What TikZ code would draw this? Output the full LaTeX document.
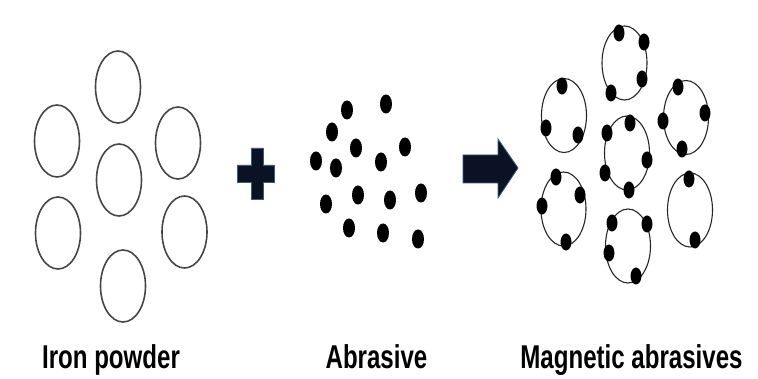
\documentclass[tikz,border=0pt]{standalone}
\usepackage{fontspec}
\setmainfont{Liberation Sans}
\usetikzlibrary{shapes.geometric}
\definecolor{ringgray}{RGB}{70,70,70}
\definecolor{navyfill}{RGB}{10,18,36}
\definecolor{navyedge}{RGB}{60,90,130}
\tikzset{
  fe/.style={ellipse, draw=ringgray, line width=1.6pt, minimum width=45pt, minimum height=72pt, inner sep=0pt},
  mag/.style={ellipse, draw=black!85, line width=1.1pt, minimum width=45pt, minimum height=74pt, inner sep=0pt},
  grit/.style={ellipse, fill=black, minimum width=12pt, minimum height=19pt, inner sep=0pt},
  mgrit/.style={ellipse, fill=black, minimum width=11pt, minimum height=17pt, inner sep=0pt},
  lbl/.style={inner sep=0pt, anchor=base, font=\fontsize{33}{33}\selectfont\bfseries},
  sym/.style={fill=navyfill, draw=navyedge, line width=0.8pt, line join=miter}
}
\newcommand{\narrowtext}[1]{\scalebox{0.73}[1]{#1}}
\begin{document}
\begin{tikzpicture}[x=1pt,y=-1pt]
\useasboundingbox[fill=white] (0,0) rectangle (758,379);
% Iron powder
\node[fe] (f1) at (118,87) {};
\node[fe] (f2) at (57,141) {};
\node[fe] (f3) at (178,143) {};
\node[fe] (f4) at (119,180) {};
\node[fe] (f5) at (58,233) {};
\node[fe] (f6) at (184.5,232) {};
\node[fe] (f7) at (123,286) {};
% plus
\draw[sym] (251,148) -- (263,148) -- (263,165) -- (274,165) -- (274,182) -- (263,182) -- (263,199) -- (251,199) -- (251,182) -- (237,182) -- (237,165) -- (251,165) -- cycle;
% abrasive grains
\foreach \n/\x/\y in {1/347/110, 2/386/104, 3/332/132, 4/356/148, 5/405/147, 6/316/161, 7/336/168, 8/381/162, 9/358/195, 10/390/200, 11/421/193, 12/326/204, 13/349/228, 14/383/233, 15/418/239}
  \node[grit] (g\n) at (\x,\y) {};
% arrow
\draw[sym] (463,155) -- (498,155) -- (498,139) -- (518,168) -- (498,198) -- (498,183) -- (463,183) -- cycle;
% magnetic abrasives
\node[mag] (m1) at (624.5,63) {};
\node[mag] (m2) at (564,115.5) {};
\node[mag] (m3) at (627,153) {};
\node[mag] (m4) at (686,117.5) {};
\node[mag] (m5) at (563.5,209) {};
\node[mag] (m6) at (690,210) {};
\node[mag] (m7) at (628,246) {};
\foreach \n/\x/\y in {a/619/33, b/644/42, c/642/79, d/611/93,
  e/562/86, f/546/128, g/578/135,
  h/630/123, i/607/133, j/647/160, k/605/173, l/629/190,
  m/678/87, n/705/113, o/663/121, p/682/149,
  q/556/177, r/580/195, s/542/206, t/566/242,
  u/689/179, v/695/240,
  w/612/223, x/647/224, y/609/253, z/636/276}
  \node[mgrit] (d\n) at (\x,\y) {};
% labels
\node[lbl] (t1) at (111,369) {\narrowtext{Iron powder}};
\node[lbl] (t2) at (376.5,369) {\narrowtext{Abrasive}};
\node[lbl] (t3) at (631.5,369) {\narrowtext{Magnetic abrasives}};
\end{tikzpicture}
\end{document}
